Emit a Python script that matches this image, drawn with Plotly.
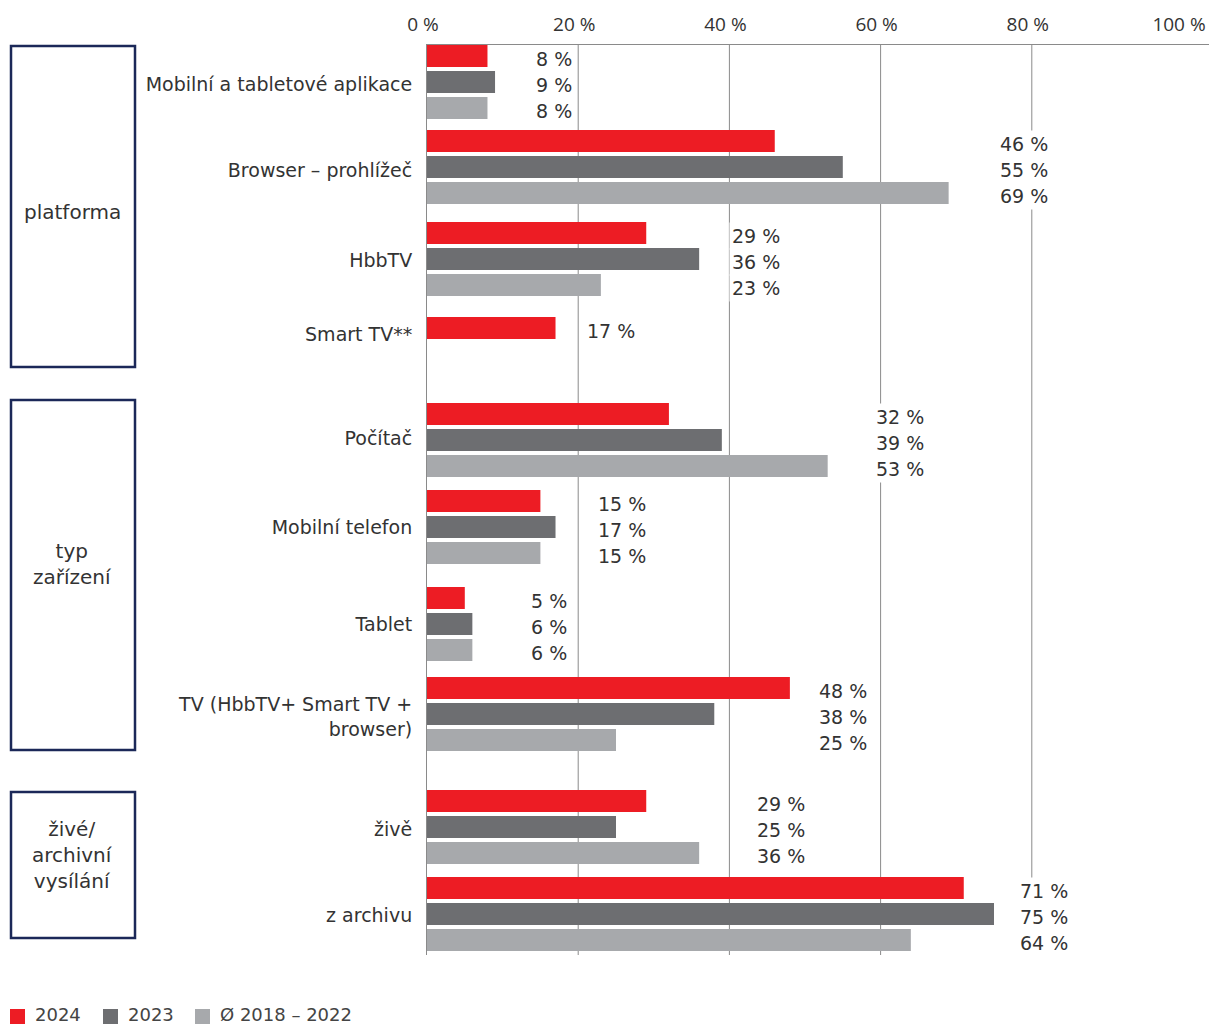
import plotly.graph_objects as go

# ---------------- data ----------------
categories = ["Mobilní a tabletové aplikace", "Browser – prohlížeč", "HbbTV", "Smart TV**",
              "Počítač", "Mobilní telefon", "Tablet", "TV (HbbTV+ Smart TV +<br>browser)",
              "živě", "z archivu"]
v2024 = [8, 46, 29, 17, 32, 15, 5, 48, 29, 71]
v2023 = [9, 55, 36, None, 39, 17, 6, 38, 25, 75]
vavg = [8, 69, 23, None, 53, 15, 6, 25, 36, 64]
series_names = ["2024", "2023", "Ø 2018 – 2022"]
x_ticks = [0, 20, 40, 60, 80, 100]
x_ticktext = ["0 %", "20 %", "40 %", "60 %", "80 %", "100 %"]
sections = ["platforma", "typ<br>zařízení", "živé/<br>archivní<br>vysílání"]

# ---------------- layout helpers (positions / styles) ----------------
W, H = 1209, 1025
PLOT_L, PLOT_R, PLOT_T, PLOT_B = 427, 1209, 45, 955   # in page pixels
ML, MT = PLOT_L, PLOT_T
MR, MB = W - PLOT_R, H - PLOT_B
PW, PH = PLOT_R - PLOT_L, PLOT_B - PLOT_T
X_MAX = PW / 7.56            # 100 % sits at ~1183 px
# vertical axis measured in page-pixel-like units (top=45, bottom=955)
group_center = [82, 167, 259, 354, 440, 527, 624, 714, 827, 914]
tick_pos = [84, 170, 260, 334, 438, 527, 624, 717, 829, 915]
label_x = [19.6, 82.5, 47.1, 27.9, 66.1, 29.4, 18.9, 58.6, 50.4, 85.2]
bar_w = 22
offsets = [-37, -11, 15]
colors = ["#ED1C24", "#6D6E71", "#A7A9AC"]
TXT = "#333333"
GRID = "#8a8a8a"
NAVY = "#1b2858"
FONT = "DejaVu Sans"
TICK_FONT = "Open Sans"
section_box = [(46, 367), (400, 750), (792, 938)]
section_text_y = [212, 564, 855]


def px_x(px):
    return (px - PLOT_L) / PW


def px_y(py):
    return (PLOT_B - py) / PH


fig = go.Figure()
for vals, name, col, off in zip([v2024, v2023, vavg], series_names, colors, offsets):
    fig.add_trace(go.Bar(
        y=group_center, x=vals, orientation="h", name=name,
        marker=dict(color=col, line=dict(width=0)),
        width=bar_w, offset=off, showlegend=False, hoverinfo="x+name",
    ))

annotations = []
# value labels
for i in range(len(categories)):
    for vals, off in zip([v2024, v2023, vavg], offsets):
        v = vals[i]
        if v is None:
            continue
        annotations.append(dict(
            x=label_x[i], y=group_center[i] + off + bar_w / 2, xref="x", yref="y",
            text=f"{v} %", showarrow=False, xanchor="right", yanchor="middle",
            yshift=-3, font=dict(family=FONT, size=19, color=TXT),
            bgcolor="white", borderpad=2,
        ))

shapes = []
# gridlines (no line at 100 %)
for t in [20, 40, 60, 80]:
    shapes.append(dict(type="line", xref="x", yref="paper", x0=t, x1=t, y0=0, y1=1,
                       line=dict(color=GRID, width=1), layer="below"))
# section boxes
for (y0, y1), ty, txt in zip(section_box, section_text_y, sections):
    shapes.append(dict(type="rect", xref="paper", yref="paper",
                       x0=px_x(11), x1=px_x(135), y0=px_y(y0), y1=px_y(y1),
                       line=dict(color=NAVY, width=2.5), fillcolor="rgba(0,0,0,0)"))
    annotations.append(dict(x=px_x(72), y=px_y(ty), xref="paper", yref="paper",
                            text=txt, showarrow=False, xanchor="center", yanchor="middle",
                            align="center", font=dict(family=FONT, size=20, color=TXT)))

# legend
leg_sq = [10, 103, 195]
for sx, col, name in zip(leg_sq, colors, series_names):
    shapes.append(dict(type="rect", xref="paper", yref="paper",
                       x0=px_x(sx), x1=px_x(sx + 15), y0=px_y(1009), y1=px_y(1024),
                       line=dict(width=0), fillcolor=col))
    annotations.append(dict(x=px_x(sx + 23), y=px_y(1014), xref="paper", yref="paper",
                            text=name, showarrow=False, xanchor="left", yanchor="middle",
                            font=dict(family=FONT, size=18, color="#444444")))

fig.update_layout(
    width=W, height=H, margin=dict(l=ML, r=MR, t=MT, b=MB, autoexpand=False),
    paper_bgcolor="white", plot_bgcolor="white", barmode="overlay",
    font=dict(family=FONT, size=19, color=TXT),
    annotations=annotations, shapes=shapes, showlegend=False,
    xaxis=dict(range=[0, X_MAX], side="top", tickvals=x_ticks, ticktext=x_ticktext,
               showgrid=False, zeroline=False, showline=True, linecolor=GRID, linewidth=1,
               ticks="", ticklabelstandoff=5, ticklabelshift=-4, ticklabeloverflow="allow",
               tickfont=dict(family=TICK_FONT, size=19, color=TXT), fixedrange=True),
    yaxis=dict(range=[PLOT_B, PLOT_T], tickvals=tick_pos, ticktext=categories,
               showgrid=False, zeroline=False, showline=True, linecolor=GRID, linewidth=1,
               ticks="", ticklabelstandoff=10,
               tickfont=dict(family=FONT, size=19, color=TXT), fixedrange=True),
)

fig.write_html(
    "out.html",
    config={"displayModeBar": False},
    post_script="document.documentElement.style.overflow='hidden';"
                "document.body.style.margin='0';document.body.style.overflow='hidden';",
)
